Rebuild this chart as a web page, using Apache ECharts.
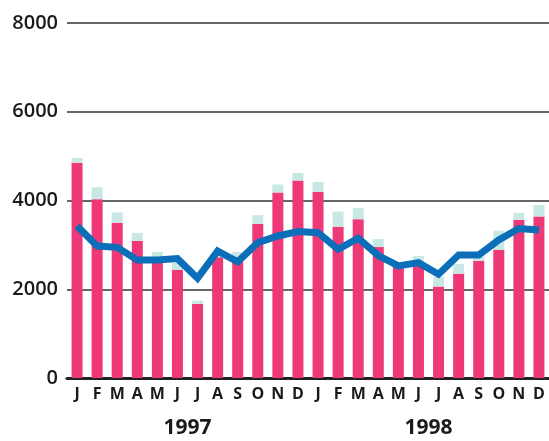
<!DOCTYPE html>
<html>
<head>
<meta charset="utf-8">
<script src="https://cdn.jsdelivr.net/npm/echarts@6/dist/echarts.min.js"></script>
<style>
  html, body { margin: 0; padding: 0; background: #fff; }
  #chart { width: 549px; height: 441px; }
</style>
</head>
<body>
<div id="chart"></div>
<script>
// Monthly series, Jan 1997 – Dec 1998
var months = ['J','F','M','A','M','J','J','A','S','O','N','D',
              'J','F','M','A','M','J','J','A','S','O','N','D'];
var years = ['1997', '1998'];

// Main (pink) bar portion
var baseValues = [4850, 4030, 3500, 3090, 2720, 2440, 1670, 2720, 2620, 3470, 4180, 4450,
                  4200, 3410, 3580, 2950, 2500, 2600, 2060, 2350, 2640, 2890, 3560, 3640];
// Additional (light) portion stacked on top
var extraValues = [110, 270, 230, 180, 120, 160, 70, 80, 220, 200, 180, 170,
                   220, 340, 250, 180, 60, 150, 220, 220, 100, 430, 160, 260];
// Line series
var lineValues = [3425, 2975, 2945, 2660, 2660, 2690, 2250, 2860, 2620, 3050, 3200, 3300,
                  3275, 2900, 3150, 2760, 2525, 2600, 2340, 2770, 2770, 3110, 3370, 3335];
var yTicks = [0, 2000, 4000, 6000, 8000];

var font = '"Open Sans", "DejaVu Sans", sans-serif';
var chart = echarts.init(document.getElementById('chart'), null, { renderer: 'canvas' });

chart.setOption({
  animation: false,
  grid: { left: 67, top: 23, width: 485, height: 355, containLabel: false },
  xAxis: [{
    type: 'category',
    data: months,
    axisLine: { show: true, lineStyle: { color: '#222', width: 3 } },
    axisTick: { show: false },
    axisLabel: { color: '#1a1a1a', fontFamily: font, fontWeight: 700, fontSize: 16, margin: 8, interval: 0 }
  }, {
    type: 'category',
    data: years,
    position: 'bottom',
    offset: 40,
    axisLine: { show: false },
    axisTick: { show: false },
    axisLabel: { color: '#1a1a1a', fontFamily: font, fontWeight: 700, fontSize: 21, margin: 0 }
  }],
  yAxis: {
    type: 'value',
    min: yTicks[0],
    max: yTicks[yTicks.length - 1],
    interval: 2000,
    axisLine: { show: false },
    axisTick: { show: false },
    splitLine: { lineStyle: { color: '#333', width: 1.5 } },
    axisLabel: {
      color: '#1a1a1a', fontFamily: font, fontWeight: 600, fontSize: 20, margin: 9,
      formatter: function (v) { return String(v); }
    }
  },
  series: [{
    type: 'bar',
    stack: 'total',
    data: baseValues,
    barWidth: 11,
    itemStyle: { color: '#ef3878' },
    z: 2
  }, {
    type: 'bar',
    stack: 'total',
    data: extraValues,
    barWidth: 11,
    itemStyle: { color: '#c8e8e6' },
    z: 2
  }, {
    type: 'line',
    data: lineValues,
    symbol: 'none',
    lineStyle: { color: '#0a6fb8', width: 7, join: 'miter' },
    z: 5
  }]
});
</script>
</body>
</html>
